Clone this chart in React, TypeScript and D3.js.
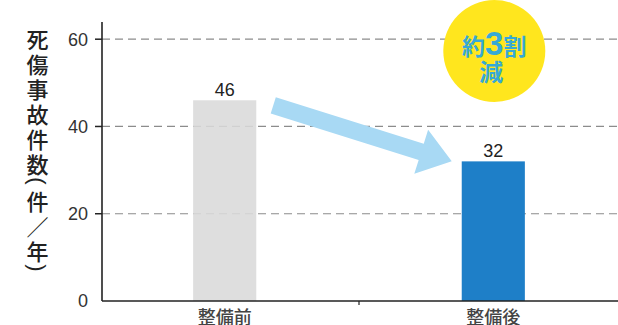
import React from "react";
import * as d3 from "d3";

const categories = ["整備前", "整備後"];
const values = [46, 32];
const barColors = ["#d9d9d9", "#1e7fc8"];
const yTicks = [0, 20, 40, 60];
const titleChars = ["死", "傷", "事", "故", "件", "数", "(", "件", "／", "年", ")"];
const badgeLine1 = ["約", "3", "割"];
const badgeLine2 = "減";

const W = 618;
const H = 325;
const axisX = 102;
const baseY = 301;

export default function App() {
  const y = d3.scaleLinear().domain([0, 60]).range([baseY, 39.2]);
  const x = d3.scaleBand().domain(categories).range([90.4, 627.6]).padding(0);
  const bw = x.bandwidth() * 0.235;
  const cx = (c: string) => (x(c) as number) + x.bandwidth() / 2;

  // arrow from bar1 top-right to bar2 top-left
  const sx = cx(categories[0]) + bw / 2 + 17;
  const sy = y(values[0]) + 5;
  const ex = cx(categories[1]) - bw / 2 - 10;
  const ey = y(values[1]);
  const dx = ex - sx, dy = ey - sy;
  const len = Math.hypot(dx, dy);
  const ux = dx / len, uy = dy / len;
  const px = -uy, py = ux;
  const bodyHalf = 8.5, headHalf = 23, headLen = 32;
  const hb = len - headLen;
  const pt = (a: number, b: number) => [sx + ux * a + px * b, sy + uy * a + py * b];
  const arrowPts = [
    pt(0, -bodyHalf), pt(hb, -bodyHalf), pt(hb, -headHalf), pt(len, 0),
    pt(hb, headHalf), pt(hb, bodyHalf), pt(0, bodyHalf),
  ];
  const arrowPath = d3.line()(arrowPts as [number, number][]) + "Z";

  // title positions
  const isParen = (c: string) => c === "(" || c === ")";
  const hOf = (c: string) => (isParen(c) ? 12 : 25);
  const titleYs: number[] = [];
  titleChars.forEach((c, i) => {
    if (i === 0) titleYs.push(37.5);
    else titleYs.push(titleYs[i - 1] + (hOf(titleChars[i - 1]) + hOf(c)) / 2);
  });

  const badgeCx = cx(categories[1]) + 1;
  const badgeCy = 51;

  const jp = "'Noto Sans CJK JP', sans-serif";
  const num = "'Liberation Sans', Arial, sans-serif";
  const titleX = 37.5;

  return (
    <svg width={W} height={H} style={{ position: "absolute", left: 0, top: 0, background: "#fff" }}>
      {/* grid */}
      {yTicks.filter((t) => t > 0).map((t) => (
        <line key={t} x1={axisX} x2={W} y1={y(t)} y2={y(t)} stroke="#8c8c8c" strokeWidth={1.2} strokeDasharray="8,5" />
      ))}
      {/* bars */}
      {categories.map((c, i) => (
        <rect key={c} x={cx(c) - bw / 2} y={y(values[i])} width={bw} height={baseY - y(values[i])}
          fill={barColors[i]} opacity={i === 0 ? 0.88 : 1} />
      ))}
      {/* value labels */}
      {categories.map((c, i) => (
        <text key={c} x={cx(c)} y={y(values[i]) - 4} textAnchor="middle" fontFamily={num} fontSize={18} fill="#222">
          {values[i]}
        </text>
      ))}
      {/* arrow */}
      <path d={arrowPath} fill="#a8d9f4" />
      {/* axes */}
      <line x1={axisX} x2={axisX} y1={22} y2={baseY} stroke="#222" strokeWidth={1.6} />
      <line x1={axisX} x2={W} y1={baseY} y2={baseY} stroke="#222" strokeWidth={1.6} />
      <line x1={x(categories[1]) as number} x2={x(categories[1]) as number} y1={baseY} y2={baseY + 4} stroke="#222" strokeWidth={1.2} />
      {yTicks.map((t) => (
        <g key={t}>
          {t > 0 && <line x1={axisX - 7} x2={axisX} y1={y(t)} y2={y(t)} stroke="#222" strokeWidth={1.5} />}
          <text x={88} y={y(t)} dy="0.36em" textAnchor="end" fontFamily={num} fontSize={18} fill="#333">
            {t}
          </text>
        </g>
      ))}
      {/* x labels */}
      {categories.map((c) => (
        <text key={c} x={cx(c)} y={324} textAnchor="middle" fontFamily={jp} fontSize={18} fontWeight={500} fill="#444">
          {c}
        </text>
      ))}
      {/* y title */}
      {titleChars.map((c, i) =>
        isParen(c) ? (
          <text key={i} transform={`translate(${titleX},${titleYs[i]}) rotate(90)`} dy="0.35em" textAnchor="middle"
            fontFamily={num} fontSize={22} fill="#222">
            {c}
          </text>
        ) : (
          <text key={i} x={titleX} y={titleYs[i]} dominantBaseline="central" textAnchor="middle"
            fontFamily={jp} fontSize={22} fontWeight={500} fill="#222">
            {c}
          </text>
        )
      )}
      {/* badge */}
      <circle cx={badgeCx} cy={badgeCy} r={51} fill="#ffe61e" />
      <text x={badgeCx} y={badgeCy + 4} textAnchor="middle" fontWeight={700} fill="#36a9d6">
        <tspan fontFamily={jp} fontSize={23}>{badgeLine1[0]}</tspan>
        <tspan fontFamily={num} fontSize={33}>{badgeLine1[1]}</tspan>
        <tspan fontFamily={jp} fontSize={23}>{badgeLine1[2]}</tspan>
      </text>
      <text x={badgeCx - 3} y={badgeCy + 30} textAnchor="middle" fontFamily={jp} fontSize={24} fontWeight={700} fill="#36a9d6">
        {badgeLine2}
      </text>
    </svg>
  );
}
